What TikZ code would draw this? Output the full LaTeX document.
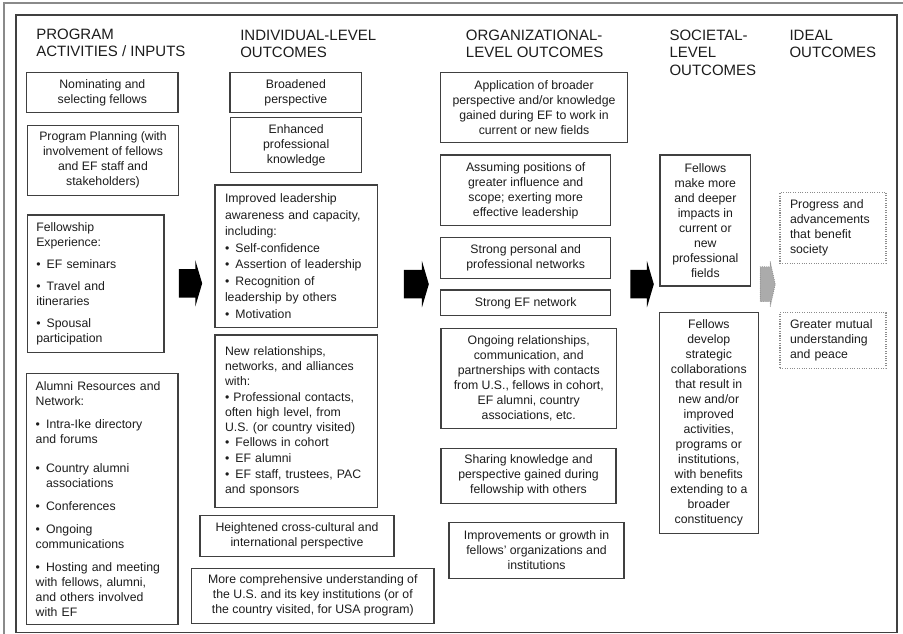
\documentclass[tikz,border=0pt]{standalone}
\usepackage{fontspec}
\setmainfont{Liberation Sans}
\usetikzlibrary{shapes.arrows}
\definecolor{ink}{HTML}{1C1C1C}
\definecolor{edge}{HTML}{404040}
\definecolor{framegray}{HTML}{8A8A8A}
\definecolor{dotgray}{HTML}{8C8C8C}
\definecolor{haze}{HTML}{ABABAB}
\tikzset{wh/.style 2 args={minimum width=#1*0.75pt,minimum height=#2*0.75pt},
  box/.style={draw=edge,line width=0.8pt,align=center,text=ink,inner sep=0pt,font=\fontsize{9.2}{11.25}\selectfont},
  lbox/.style={box,align=left},
  dotbox/.style={lbox,draw=dotgray,densely dotted},
  head/.style={anchor=north west,inner sep=0pt,align=left,text=ink,font=\fontsize{11.25}{13.3}\selectfont},
  blk/.style={single arrow,fill=black,draw=none,inner xsep=0pt,inner ysep=10.5pt,single arrow tip angle=147,single arrow head extend=6.75pt,single arrow head indent=0pt},
  fade/.style={blk,fill=haze,draw=dotgray,densely dotted,line width=0.6pt,inner ysep=12.75pt,single arrow tip angle=155,single arrow head extend=4.1pt}}

\begin{document}
\begin{tikzpicture}[x=0.75pt,y=-0.75pt]
\useasboundingbox (0,0) rectangle (903,634);
% frames
\draw[framegray,line width=1.1pt] (4,634) |- (903,3);
\draw[edge,line width=1.1pt] (16,15) rectangle (897,632.5);
% column headings
\node[head] (h1) at (36,28.5) {PROGRAM\\ACTIVITIES / INPUTS};
\node[head] (h2) at (240,29.5) {INDIVIDUAL-LEVEL\\OUTCOMES};
\node[head] (h3) at (465.7,29.5) {ORGANIZATIONAL-\\LEVEL OUTCOMES};
\node[head] (h4) at (669.3,29.5) {SOCIETAL-\\LEVEL\\OUTCOMES};
\node[head] (h5) at (789.3,29.5) {IDEAL\\OUTCOMES};
% program activities / inputs
\node[box,wh={151.3}{40}] (nom) at (102.35,92.7) {Nominating and\\selecting fellows};
\node[box,wh={151.4}{70.3}] (plan) at (103,160.2) {Program Planning (with\\involvement of fellows\\and EF staff and\\stakeholders)};
\node[lbox,wh={136.7}{137.7},text width=89pt] (fexp) at (95.65,283.85) {Fellowship\\Experience:\\[5.25pt]\textbullet\enspace EF seminars\\[5.25pt]\textbullet\enspace Travel and\\itineraries\\[5.25pt]\textbullet\enspace Spousal\\participation};
\node[lbox,wh={151.3}{251},text width=100pt] (alum) at (102.35,498.8) {Alumni Resources and\\Network:\\[6pt]\textbullet\enspace Intra-Ike directory\\and forums\\[10.5pt]\textbullet\enspace Country alumni\\\hspace*{0.85em}associations\\[6pt]\textbullet\enspace Conferences\\[6pt]\textbullet\enspace Ongoing\\communications\\[6pt]\textbullet\enspace Hosting and meeting\\with fellows, alumni,\\and others involved\\with EF};
% individual-level outcomes
\node[box,wh={131.7}{40}] (broad) at (295.85,92.7) {Broadened\\perspective};
\node[box,wh={131}{55.4}] (enh) at (296.2,145) {Enhanced\\professional\\knowledge};
\node[lbox,wh={162.7}{142.3},text width=107pt,font=\fontsize{9.2}{12.4}\selectfont] (lead) at (296.35,256.15) {Improved leadership\\awareness and capacity,\\including:\\\textbullet\enspace Self-confidence\\\textbullet\enspace Assertion of leadership\\\textbullet\enspace Recognition of\\leadership by others\\\textbullet\enspace Motivation};
\node[lbox,wh={162.7}{172.3},text width=107pt] (rel) at (296.35,421.15) {New relationships,\\networks, and alliances\\with:\\[0.5pt]\textbullet\ Professional contacts,\\often high level, from\\U.S. (or country visited)\\[0.5pt]\textbullet\enspace Fellows in cohort\\[0.5pt]\textbullet\enspace EF alumni\\[0.5pt]\textbullet\enspace EF staff, trustees, PAC\\and sponsors};
\node[box,wh={194}{41}] (cross) at (297,536.2) {Heightened cross-cultural and\\international perspective};
\node[box,wh={242.3}{55}] (usa) at (312.85,595.8) {More comprehensive understanding of\\the U.S. and its key institutions (or of\\the country visited, for USA program)};
% organizational-level outcomes
\node[box,wh={186.6}{70}] (appl) at (534,107.7) {Application of broader\\perspective and/or knowledge\\gained during EF to work in\\current or new fields};
\node[box,wh={170}{70.7}] (assum) at (525.7,190.35) {Assuming positions of\\greater influence and\\scope; exerting more\\effective leadership};
\node[box,wh={170}{41}] (pers) at (525.7,257.8) {Strong personal and\\professional networks};
\node[box,wh={170}{25.7}] (efnet) at (525.7,302.85) {Strong EF network};
\node[box,wh={175.5}{100}] (ongo) at (528.75,378.3) {Ongoing relationships,\\communication, and\\partnerships with contacts\\from U.S., fellows in cohort,\\EF alumni, country\\associations, etc.};
\node[box,wh={175}{55}] (share) at (528.5,475.8) {Sharing knowledge and\\perspective gained during\\fellowship with others};
\node[box,wh={175}{55.6}] (impr) at (536.5,550.5) {Improvements or growth in\\fellows’ organizations and\\institutions};
% societal-level outcomes
\node[box,wh={90.7}{131}] (impact) at (705.35,220.5) {Fellows\\make more\\and deeper\\impacts in\\current or\\new\\professional\\fields};
\node[box,wh={99}{220.6}] (collab) at (708.8,423) {Fellows\\develop\\strategic\\collaborations\\that result in\\new and/or\\improved\\activities,\\programs or\\institutions,\\with benefits\\extending to a\\broader\\constituency};
% ideal outcomes
\node[dotbox,wh={106}{70.6},text width=64.5pt] (prog) at (833,228) {Progress and\\advancements\\that benefit\\society};
\node[dotbox,wh={106}{55.6},text width=64.5pt] (peace) at (833,340.5) {Greater mutual\\understanding\\and peace};
% block arrows between columns
\node[blk,minimum height=23.3*0.75pt] (arr1) at (188.4,283.4) {};
\node[blk,minimum height=25*0.75pt] (arr2) at (414.2,284.2) {};
\node[blk,minimum height=23.4*0.75pt] (arr3) at (640,284.2) {};
\node[fade,minimum height=15*0.75pt] (arr4) at (765.8,284.2) {};
\end{tikzpicture}
\end{document}
